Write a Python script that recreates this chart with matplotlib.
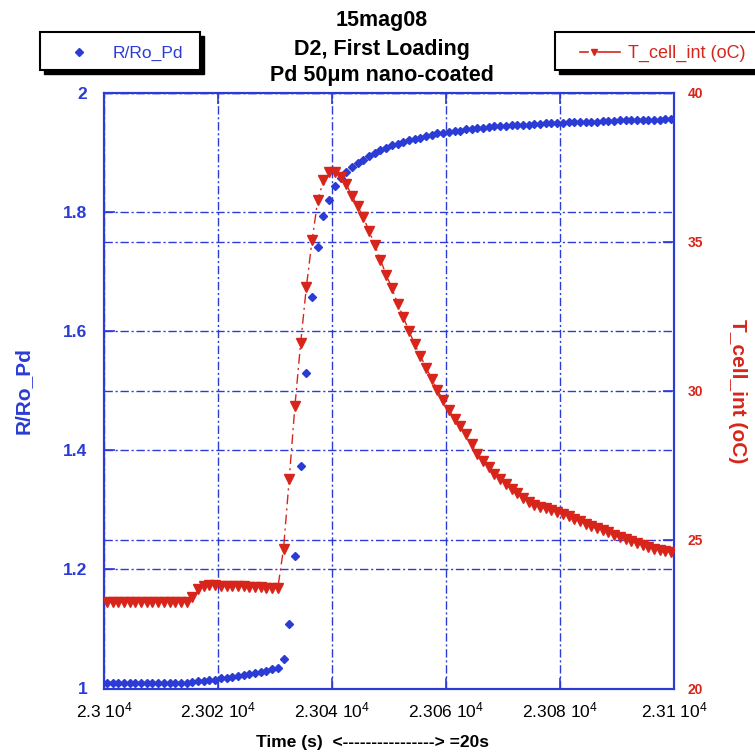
import matplotlib
matplotlib.use('Agg')
import matplotlib.pyplot as plt
import numpy as np
from matplotlib.patches import Rectangle
from matplotlib.lines import Line2D

plt.rcParams['font.family'] = ['Liberation Sans', 'DejaVu Sans']
plt.rcParams['mathtext.default'] = 'regular'

BLUE = '#2b3bd6'
RED = '#d8251b'

# one sample per second, starting half a second after 23000
time_s = 23000.5 + np.arange(100)

r_ro_pd = [1.010, 1.010, 1.010, 1.010, 1.010, 1.010, 1.010, 1.010, 1.010, 1.010,
           1.010, 1.010, 1.010, 1.010, 1.010,
           1.011, 1.012, 1.013, 1.014, 1.015, 1.017, 1.018, 1.019, 1.021, 1.022,
           1.024, 1.026, 1.028, 1.030, 1.032, 1.035,
           1.049, 1.108, 1.222, 1.374, 1.529, 1.657, 1.742, 1.793, 1.821, 1.843,
           1.858, 1.867, 1.875, 1.882, 1.888, 1.894, 1.899, 1.904, 1.908, 1.912,
           1.915, 1.918, 1.921, 1.923, 1.925, 1.928, 1.930, 1.932, 1.933, 1.935,
           1.936, 1.937, 1.939, 1.940, 1.941, 1.942, 1.943, 1.944, 1.944, 1.945,
           1.946, 1.946, 1.947, 1.947, 1.948, 1.948, 1.949, 1.949, 1.950, 1.950,
           1.951, 1.951, 1.951, 1.952, 1.952, 1.952, 1.953, 1.953, 1.953, 1.954,
           1.954, 1.954, 1.954, 1.955, 1.955, 1.955, 1.955, 1.956, 1.956]

t_cell_int = [22.90, 22.90, 22.91, 22.90, 22.90, 22.90, 22.89, 22.90, 22.90, 22.90,
              22.91, 22.90, 22.90, 22.90, 22.91,
              23.08, 23.33, 23.44, 23.46, 23.46, 23.45, 23.45, 23.44, 23.44, 23.43,
              23.42, 23.41, 23.40, 23.39, 23.38, 23.38,
              24.70, 27.05, 29.50, 31.60, 33.48, 35.05, 36.39, 37.07, 37.36, 37.36,
              37.18, 36.94, 36.54, 36.20, 35.82, 35.37, 34.90, 34.39, 33.90, 33.45,
              32.93, 32.48, 32.01, 31.57, 31.17, 30.78, 30.40, 30.02, 29.68, 29.35,
              29.05, 28.80, 28.56, 28.20, 27.89, 27.65, 27.43, 27.22, 27.03, 26.86,
              26.70, 26.55, 26.40, 26.27, 26.16, 26.10, 26.05, 25.99, 25.93, 25.86,
              25.78, 25.70, 25.62, 25.54, 25.47, 25.40, 25.32, 25.24, 25.16, 25.09,
              25.02, 24.96, 24.89, 24.83, 24.76, 24.70, 24.66, 24.62, 24.59]

x_ticks = [23000, 23020, 23040, 23060, 23080, 23100]
x_labels = ['2.3 10$^4$', '2.302 10$^4$', '2.304 10$^4$', '2.306 10$^4$',
            '2.308 10$^4$', '2.31 10$^4$']
left_ticks = [1, 1.2, 1.4, 1.6, 1.8, 2]
left_labels = ['1', '1.2', '1.4', '1.6', '1.8', '2']
right_ticks = [20, 25, 30, 35, 40]

title_lines = ['15mag08', 'D2, First Loading', 'Pd 50\u03bcm nano-coated']

W, H = 755, 754
fig = plt.figure(figsize=(W / 100, H / 100), dpi=100)
ax = fig.add_axes([104 / W, 1 - 688.5 / H, 570 / W, 595.5 / H])
ax2 = ax.twinx()

grid_kw = dict(color=BLUE, linewidth=1.0, linestyle=(0, (6, 2, 1.5, 2)))

ax.plot(time_s, r_ro_pd, linestyle='none', marker='D', markersize=4.3,
        color=BLUE, zorder=3)
ax2.plot(time_s, t_cell_int, linestyle=(0, (7, 3, 1.5, 3)), linewidth=1,
         marker='v', markersize=6.5, color=RED, zorder=3)

ax.set_xlim(23000, 23100)
ax.set_ylim(1, 2)
ax2.set_ylim(20, 40)

ax.set_xticks(x_ticks)
ax.set_xticklabels(x_labels, fontsize=12.5)
ax.set_yticks(left_ticks)
ax.set_yticklabels(left_labels, fontsize=12.5, fontweight='bold', color=BLUE)
ax2.set_yticks(right_ticks)
ax2.set_yticklabels([str(v) for v in right_ticks], fontsize=10,
                    fontweight='bold', color=RED)

ax.grid(True, **grid_kw)
ax2.grid(True, axis='y', **grid_kw)

ax.tick_params(axis='x', direction='in', length=8, width=1.2, color=BLUE,
               top=True, pad=9)
ax.tick_params(axis='y', direction='in', length=8, width=1.2, color=BLUE,
               left=True, right=False, pad=12)
ax2.tick_params(axis='y', direction='in', length=8, width=1.2, color=BLUE,
                pad=10)

for a in (ax, ax2):
    for sp in a.spines.values():
        sp.set_color(BLUE)
        sp.set_linewidth(1.5)

ax.set_ylabel('R/Ro_Pd', color=BLUE, fontsize=15, fontweight='bold',
              va='center')
ax.yaxis.set_label_coords(-0.142, 0.5)
ax2.set_ylabel('T_cell_int (oC)', color=RED, fontsize=15, fontweight='bold',
               rotation=-90, va='center')
ax2.yaxis.set_label_coords(1.112, 0.5)

fig.text(373 / W, 1 - 742 / H, 'Time (s)  <----------------> =20s',
         ha='center', va='center', fontsize=12.5, fontweight='bold')

for line, yp in zip(title_lines, [20.7, 49, 75]):
    fig.text(382 / W, 1 - yp / H, line, ha='center', va='center',
             fontsize=15.5, fontweight='bold')

# legend boxes with a solid black shadow
for x0, x1 in [(40, 200), (555, 820)]:
    fig.patches.append(Rectangle(((x0 + 4) / W, 1 - 74 / H), (x1 - x0) / W, 38 / H,
                                 transform=fig.transFigure, facecolor='black',
                                 edgecolor='black', zorder=1))
    fig.patches.append(Rectangle((x0 / W, 1 - 70 / H), (x1 - x0) / W, 38 / H,
                                 transform=fig.transFigure, facecolor='white',
                                 edgecolor='black', linewidth=1.5, zorder=2))

fig.lines.append(Line2D([79 / W], [1 - 52 / H], transform=fig.transFigure,
                        marker='D', markersize=3.8, color=BLUE, linestyle='none',
                        zorder=5))
fig.text(113 / W, 1 - 53 / H, 'R/Ro_Pd', color=BLUE, fontsize=12.5,
         ha='left', va='center', zorder=5)

fig.lines.append(Line2D([580 / W, 588 / W], [1 - 52 / H] * 2,
                        transform=fig.transFigure, color=RED, linewidth=1.2,
                        zorder=5))
fig.lines.append(Line2D([598 / W, 620 / W], [1 - 52 / H] * 2,
                        transform=fig.transFigure, color=RED, linewidth=1.2,
                        zorder=5))
fig.lines.append(Line2D([594 / W], [1 - 52 / H], transform=fig.transFigure,
                        marker='v', markersize=5, color=RED, linestyle='none',
                        zorder=5))
fig.text(628 / W, 1 - 53 / H, 'T_cell_int (oC)', color=RED, fontsize=13,
         ha='left', va='center', zorder=5)

fig.savefig('out.png', dpi=100)
